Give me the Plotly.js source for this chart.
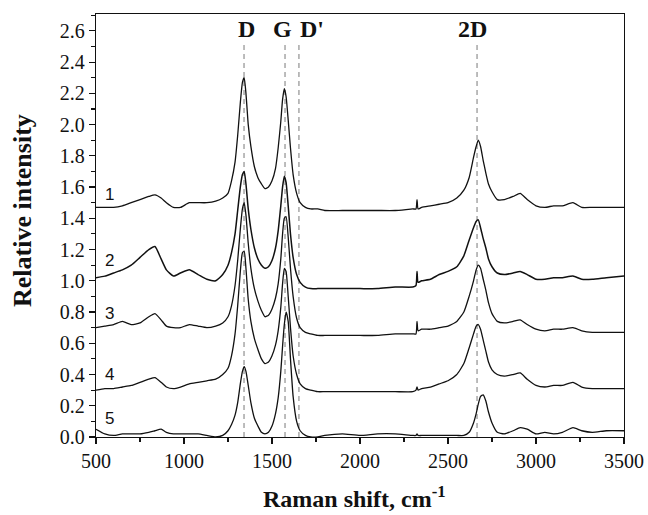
<!DOCTYPE html>
<html>
<head>
<meta charset="utf-8">
<script src="https://cdn.plot.ly/plotly-3.0.1.min.js"></script>
<style>
  html, body { margin: 0; padding: 0; background: #fff; }
  #chart { width: 648px; height: 515px; }
</style>
</head>
<body>
<div id="chart"></div>
<script>
// Raman shift grid (cm^-1)
const ramanShift = [500, 550, 600, 650, 700, 750, 800, 835, 870, 900, 940, 980, 1030, 1080, 1130, 1180, 1220, 1250, 1270, 1290, 1305, 1320, 1332, 1342, 1352, 1365, 1380, 1400, 1420, 1440, 1460, 1480, 1500, 1520, 1535, 1550, 1560, 1570, 1580, 1592, 1605, 1620, 1640, 1660, 1690, 1720, 1760, 1800, 1900, 2000, 2100, 2200, 2300, 2318, 2324, 2330, 2350, 2400, 2450, 2500, 2550, 2590, 2620, 2645, 2660, 2672, 2685, 2700, 2715, 2730, 2750, 2780, 2820, 2870, 2910, 2950, 3000, 3050, 3100, 3150, 3210, 3260, 3320, 3400, 3500];

const spectrum1 = [1.47, 1.47, 1.47, 1.48, 1.50, 1.52, 1.54, 1.55, 1.53, 1.50, 1.47, 1.47, 1.50, 1.50, 1.50, 1.51, 1.53, 1.56, 1.64, 1.76, 1.93, 2.14, 2.27, 2.30, 2.20, 2.00, 1.86, 1.73, 1.66, 1.62, 1.59, 1.60, 1.64, 1.72, 1.85, 2.02, 2.16, 2.23, 2.18, 2.03, 1.85, 1.68, 1.56, 1.50, 1.47, 1.46, 1.46, 1.45, 1.45, 1.45, 1.45, 1.45, 1.46, 1.46, 1.52, 1.46, 1.47, 1.48, 1.49, 1.50, 1.53, 1.58, 1.66, 1.79, 1.86, 1.90, 1.86, 1.77, 1.69, 1.62, 1.57, 1.52, 1.52, 1.54, 1.56, 1.52, 1.48, 1.47, 1.48, 1.48, 1.50, 1.47, 1.47, 1.47, 1.47];

const spectrum2 = [1.02, 1.03, 1.05, 1.07, 1.10, 1.15, 1.20, 1.22, 1.14, 1.07, 1.03, 1.05, 1.07, 1.04, 1.01, 1.00, 1.04, 1.10, 1.18, 1.30, 1.45, 1.60, 1.68, 1.70, 1.62, 1.46, 1.33, 1.21, 1.14, 1.10, 1.08, 1.09, 1.13, 1.21, 1.32, 1.48, 1.60, 1.67, 1.63, 1.48, 1.30, 1.15, 1.04, 0.99, 0.96, 0.95, 0.95, 0.95, 0.95, 0.95, 0.95, 0.96, 0.96, 0.97, 1.06, 0.99, 1.00, 1.01, 1.04, 1.06, 1.09, 1.16, 1.26, 1.34, 1.38, 1.39, 1.34, 1.27, 1.21, 1.14, 1.09, 1.05, 1.04, 1.05, 1.06, 1.04, 1.01, 1.01, 1.02, 1.02, 1.03, 1.01, 1.01, 1.02, 1.03];

const spectrum3 = [0.70, 0.71, 0.72, 0.74, 0.72, 0.73, 0.77, 0.79, 0.75, 0.71, 0.70, 0.70, 0.72, 0.71, 0.70, 0.71, 0.73, 0.77, 0.84, 0.97, 1.13, 1.33, 1.46, 1.50, 1.42, 1.24, 1.08, 0.95, 0.87, 0.81, 0.77, 0.78, 0.82, 0.89, 0.98, 1.14, 1.30, 1.40, 1.41, 1.28, 1.08, 0.90, 0.76, 0.70, 0.67, 0.66, 0.65, 0.65, 0.65, 0.65, 0.65, 0.66, 0.66, 0.66, 0.74, 0.68, 0.69, 0.69, 0.70, 0.71, 0.74, 0.80, 0.90, 1.00, 1.07, 1.10, 1.08, 1.01, 0.94, 0.86, 0.79, 0.74, 0.73, 0.74, 0.75, 0.72, 0.69, 0.68, 0.69, 0.69, 0.70, 0.68, 0.67, 0.67, 0.67];

const spectrum4 = [0.30, 0.31, 0.31, 0.32, 0.33, 0.35, 0.37, 0.38, 0.35, 0.32, 0.31, 0.32, 0.34, 0.35, 0.36, 0.37, 0.40, 0.44, 0.52, 0.66, 0.84, 1.06, 1.18, 1.19, 1.08, 0.88, 0.74, 0.63, 0.56, 0.50, 0.47, 0.48, 0.52, 0.59, 0.68, 0.83, 0.98, 1.08, 1.06, 0.90, 0.70, 0.52, 0.40, 0.34, 0.31, 0.30, 0.29, 0.29, 0.29, 0.29, 0.29, 0.29, 0.29, 0.30, 0.32, 0.30, 0.31, 0.32, 0.34, 0.36, 0.40, 0.47, 0.57, 0.66, 0.71, 0.72, 0.69, 0.62, 0.55, 0.48, 0.43, 0.40, 0.39, 0.40, 0.41, 0.37, 0.33, 0.32, 0.33, 0.33, 0.35, 0.32, 0.31, 0.31, 0.31];

const spectrum5 = [0.05, 0.02, 0.01, 0.02, 0.02, 0.02, 0.03, 0.04, 0.05, 0.03, 0.02, 0.02, 0.02, 0.02, 0.01, 0.00, 0.01, 0.04, 0.08, 0.14, 0.22, 0.34, 0.42, 0.45, 0.42, 0.33, 0.22, 0.12, 0.07, 0.03, 0.02, 0.03, 0.07, 0.15, 0.25, 0.42, 0.58, 0.72, 0.80, 0.74, 0.50, 0.26, 0.10, 0.04, 0.01, 0.00, 0.00, 0.01, 0.02, 0.01, 0.02, 0.02, 0.01, 0.01, 0.02, 0.01, 0.01, 0.01, 0.01, 0.01, 0.01, 0.01, 0.03, 0.09, 0.15, 0.21, 0.26, 0.27, 0.23, 0.16, 0.09, 0.03, 0.02, 0.04, 0.06, 0.05, 0.02, 0.03, 0.02, 0.03, 0.06, 0.04, 0.03, 0.04, 0.04];

const curveNames = ['1', '2', '3', '4', '5'];
const curveLabelX = [540, 540, 540, 540, 540];
const curveLabelY = [1.55, 1.13, 0.79, 0.40, 0.12];

const bandPositions = [1341, 1574, 1653, 2665];
const bandLabels = ['D', 'G', "D'", '2D'];

const xTickVals = [500, 1000, 1500, 2000, 2500, 3000, 3500];
const yTickVals = [0.0, 0.2, 0.4, 0.6, 0.8, 1.0, 1.2, 1.4, 1.6, 1.8, 2.0, 2.2, 2.4, 2.6];

const serif = 'Liberation Serif, Times New Roman, serif';
const sans = 'Liberation Sans, Arial, sans-serif';

const spectra = [spectrum1, spectrum2, spectrum3, spectrum4, spectrum5];
const widths = [1.3, 1.5, 1.3, 1.3, 1.3];

const traces = spectra.map((s, i) => ({
  x: ramanShift, y: s, type: 'scatter', mode: 'lines',
  name: curveNames[i],
  line: { color: '#111', width: widths[i], shape: 'spline', smoothing: 0.5 },
  showlegend: false, hoverinfo: 'skip'
}));

const shapes = bandPositions.map(p => ({
  type: 'line', xref: 'x', yref: 'y', x0: p, x1: p, y0: 0, y1: 2.53,
  line: { color: '#999', width: 1.3, dash: '5px,4px' }, layer: 'below'
}));

const bandShift = [2, -3, 13, -5];
const annotations = bandLabels.map((t, i) => ({
  x: bandPositions[i], y: 1 + (14 - 29) / 423, xref: 'x', yref: 'paper', yanchor: 'middle',
  text: '<b>' + t + '</b>', showarrow: false, xshift: bandShift[i],
  font: { family: serif, size: 24, color: '#111' }
}));

curveNames.forEach((n, i) => annotations.push({
  x: curveLabelX[i], y: curveLabelY[i], xref: 'x', yref: 'y',
  text: n, showarrow: false, xanchor: 'left', yanchor: 'middle',
  font: { family: sans, size: 17, color: '#111' }
}));

// axis titles (placed as annotations for exact position)
annotations.push({
  xref: 'paper', yref: 'paper', x: (354 - 96) / 528, y: -(497 - 437) / 423,
  xanchor: 'center', yanchor: 'middle', showarrow: false,
  text: '<b>Raman shift, cm<sup>-1</sup></b>',
  font: { family: serif, size: 24, color: '#111' }
});
annotations.push({
  xref: 'paper', yref: 'paper', x: -(96 - 22) / 528, y: (437 - 211) / 423,
  xanchor: 'center', yanchor: 'middle', showarrow: false, textangle: -90,
  text: '<b>Relative intensity</b>',
  font: { family: serif, size: 26, color: '#111' }
});

const layout = {
  width: 648, height: 515,
  margin: { l: 96, r: 24, t: 14, b: 78 },
  paper_bgcolor: '#fff', plot_bgcolor: '#fff',
  showlegend: false,
  xaxis: {
    range: [500, 3500], tickvals: xTickVals, ticktext: xTickVals.map(String),
    ticks: 'outside', ticklen: 6, tickwidth: 1.2, tickcolor: '#111',
    showline: true, linecolor: '#111', linewidth: 1.3, mirror: true,
    showgrid: false, zeroline: false,
    minor: { dtick: 250, tick0: 500, ticks: 'outside', ticklen: 3.5, tickwidth: 1.1, tickcolor: '#111', showgrid: false },
    tickfont: { family: serif, size: 20, color: '#111' }
  },
  yaxis: {
    range: [0, 2.708], tickvals: yTickVals, ticktext: yTickVals.map(v => v.toFixed(1)),
    ticks: 'outside', ticklen: 6, tickwidth: 1.2, tickcolor: '#111',
    showline: true, linecolor: '#111', linewidth: 1.3, mirror: true,
    showgrid: false, zeroline: false,
    minor: { dtick: 0.1, tick0: 0, ticks: 'outside', ticklen: 3.5, tickwidth: 1.1, tickcolor: '#111', showgrid: false },
    tickfont: { family: serif, size: 20, color: '#111' }
  },
  shapes: shapes,
  annotations: annotations
};

Plotly.newPlot('chart', traces, layout, { displayModeBar: false, staticPlot: true });
</script>
</body>
</html>
